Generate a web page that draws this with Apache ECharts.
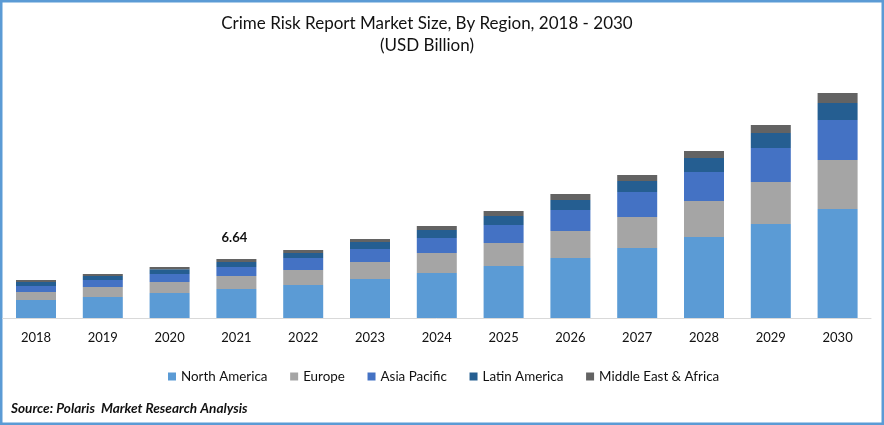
<!DOCTYPE html>
<html>
<head>
<meta charset="utf-8">
<style>
  html, body { margin: 0; padding: 0; background: #fff; }
  #chart { width: 884px; height: 425px; }
</style>
<script src="https://cdn.jsdelivr.net/npm/echarts@6/dist/echarts.min.js"></script>
</head>
<body>
<div id="chart"></div>
<script>
const years = ['2018', '2019', '2020', '2021', '2022', '2023', '2024', '2025', '2026', '2027', '2028', '2029', '2030']
const northAmerica = [2.03, 2.36, 2.81, 3.27, 3.71, 4.39, 5.06, 5.85, 6.75, 7.88, 9.12, 10.58, 12.27]
const europe = [0.90, 1.13, 1.24, 1.46, 1.69, 1.91, 2.25, 2.59, 3.04, 3.49, 4.05, 4.73, 5.51]
const asiaPacific = [0.68, 0.79, 0.90, 1.01, 1.35, 1.46, 1.69, 2.03, 2.36, 2.81, 3.26, 3.83, 4.50]
const latinAmerica = [0.45, 0.45, 0.53, 0.56, 0.56, 0.79, 0.90, 1.01, 1.13, 1.24, 1.58, 1.69, 1.91]
const middleEast = [0.23, 0.23, 0.26, 0.34, 0.34, 0.34, 0.45, 0.56, 0.68, 0.68, 0.79, 0.90, 1.13]
const labelYear = '2021'
const labelText = '6.64'

const font = 'Lato'
const textColor = '#111'

function bar (name, color, data) {
  return {
    name,
    type: 'bar',
    stack: 'total',
    barWidth: 40,
    itemStyle: { color },
    data
  }
}

// only one total is printed on the chart, it sits on the top segment
const topData = middleEast.map((v, i) => years[i] !== labelYear ? v : {
  value: v,
  label: {
    show: true,
    position: 'top',
    distance: 15,
    offset: [-2, 0],
    formatter: labelText,
    fontFamily: font,
    fontWeight: 'bold',
    fontSize: 13,
    color: textColor
  }
})

const chart = echarts.init(document.getElementById('chart'), null, { renderer: 'canvas' })
chart.setOption({
  animation: false,
  backgroundColor: '#fff',
  title: {
    text: 'Crime Risk Report Market Size, By Region, 2018 - 2030\n(USD Billion)',
    left: 422,
    textAlign: 'center',
    top: 8,
    textStyle: {
      fontFamily: font,
      fontWeight: 'normal',
      fontSize: 17,
      lineHeight: 22,
      color: textColor
    }
  },
  legend: {
    left: 163,
    top: 365,
    icon: 'rect',
    itemWidth: 8,
    itemHeight: 8,
    itemGap: 22.7,
    textStyle: { fontFamily: font, fontSize: 13.4, color: textColor }
  },
  grid: { left: 2.6, right: 13, top: 69.2, bottom: 107 },
  xAxis: {
    type: 'category',
    data: years,
    axisTick: { show: false },
    axisLine: { lineStyle: { color: '#D9D9D9', width: 1 } },
    axisLabel: { margin: 13, fontFamily: font, fontSize: 13, color: textColor }
  },
  yAxis: {
    type: 'value',
    min: 0,
    max: 28,
    show: false,
    splitLine: { show: false }
  },
  series: [
    bar('North America', '#5B9BD5', northAmerica),
    bar('Europe', '#A5A5A5', europe),
    bar('Asia Pacific', '#4472C4', asiaPacific),
    bar('Latin America', '#255E91', latinAmerica),
    bar('Middle East & Africa', '#636363', topData)
  ],
  graphic: [
    {
      type: 'rect',
      shape: { x: 1.25, y: 1.25, width: 881.5, height: 422.5 },
      style: { fill: 'none', stroke: '#5B9BD5', lineWidth: 2.5 },
      silent: true
    },
    {
      type: 'text',
      left: 11,
      top: 402,
      style: {
        text: 'Source: Polaris  Market Research Analysis',
        fontFamily: font,
        fontWeight: 'bold',
        fontStyle: 'italic',
        fontSize: 13.6,
        fill: '#111'
      }
    }
  ]
})
</script>
</body>
</html>
